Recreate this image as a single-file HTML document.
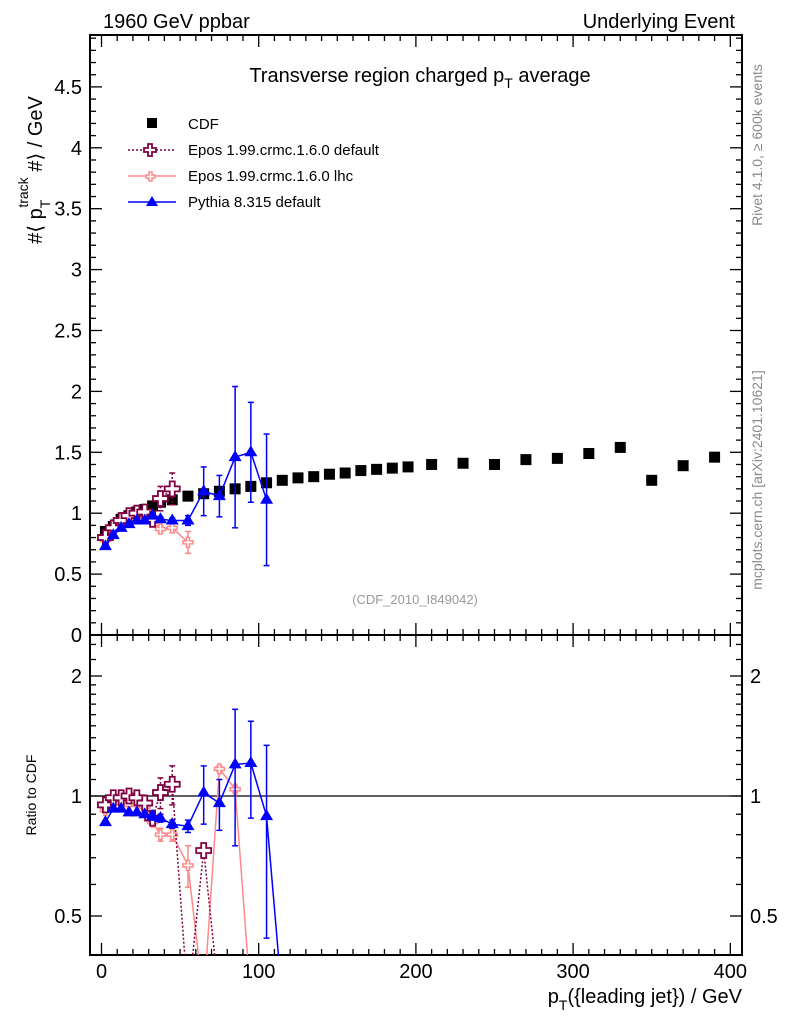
<!DOCTYPE html>
<html><head><meta charset="utf-8"><style>
html,body{margin:0;padding:0;background:#fff;width:786px;height:1024px;overflow:hidden}
svg{display:block;font-family:"Liberation Sans",sans-serif}
</style></head><body>
<svg id="c" width="786" height="1024" viewBox="0 0 786 1024">
<defs>
<clipPath id="cm"><rect x="90" y="35" width="652" height="600"/></clipPath>
<clipPath id="cr"><rect x="90" y="635" width="652" height="320"/></clipPath>
</defs>
<g id="axes"></g>
<g id="marks"></g>
<text x="103" y="28" font-size="20">1960 GeV ppbar</text>
<text x="735" y="28" font-size="20" text-anchor="end">Underlying Event</text>
<text x="420" y="82" font-size="20" text-anchor="middle">Transverse region charged p<tspan font-size="14" dy="6">T</tspan><tspan dy="-6"> average</tspan></text>
<text x="415" y="604" font-size="13" fill="#999" text-anchor="middle">(CDF_2010_I849042)</text>
<text transform="translate(42,170) rotate(-90)" font-size="20" text-anchor="middle">#⟨ p<tspan font-size="14" dy="8">T</tspan><tspan font-size="14" dy="-22" dx="-8">track</tspan><tspan dy="14"> #⟩ / GeV</tspan></text>
<text transform="translate(36,795) rotate(-90)" font-size="14" text-anchor="middle">Ratio to CDF</text>
<text x="742" y="1003" font-size="20" text-anchor="end">p<tspan font-size="14" dy="7">T</tspan><tspan dy="-7">({leading jet}) / GeV</tspan></text>
<text transform="translate(762,145) rotate(-90)" font-size="14" fill="#888" text-anchor="middle">Rivet 4.1.0, ≥ 600k events</text>
<text transform="translate(762,480) rotate(-90)" font-size="14" fill="#888" text-anchor="middle">mcplots.cern.ch [arXiv:2401.10621]</text>
<g>
<rect x="147" y="118" width="10" height="10" fill="#000"/>
<text x="188" y="129" font-size="15">CDF</text>
<line x1="128" y1="150" x2="176" y2="150" stroke="#800040" stroke-dasharray="2,2" stroke-width="1.5"/>
<path d="M148,144h4v4h4v4h-4v4h-4v-4h-4v-4h4z" fill="#fff" stroke="#800040" stroke-width="1.8"/>
<text x="188" y="155" font-size="15">Epos 1.99.crmc.1.6.0 default</text>
<line x1="128" y1="176" x2="176" y2="176" stroke="#f88" stroke-width="1.5"/>
<path d="M149,172h3v3h3v3h-3v3h-3v-3h-3v-3h3z" fill="#fff" stroke="#f88" stroke-width="1.5"/>
<text x="188" y="181" font-size="15">Epos 1.99.crmc.1.6.0 lhc</text>
<line x1="128" y1="202" x2="176" y2="202" stroke="#00f" stroke-width="1.5"/>
<path d="M152,196l6,10h-12z" fill="#00f"/>
<text x="188" y="207" font-size="15">Pythia 8.315 default</text>
</g>
</svg>
<script>
const xs = [2.5,7.5,12.5,17.5,22.5,27.5,32.5,37.5,45,55,65,75,85,95,105,115,125,135,145,155,165,175,185,195,210,230,250,270,290,310,330,350,370,390];
const cdfVals = [0.85,0.89,0.95,0.98,1.01,1.03,1.06,1.09,1.11,1.14,1.16,1.18,1.2,1.22,1.25,1.27,1.29,1.3,1.32,1.33,1.35,1.36,1.37,1.38,1.4,1.41,1.4,1.44,1.45,1.49,1.54,1.27,1.39,1.46];
const pyX = [2.5,7.5,12.5,17.5,22.5,27.5,32.5,37.5,45,55,65,75,85,95,105];
const pyVals = [0.73,0.82,0.88,0.91,0.94,0.94,0.98,0.95,0.94,0.94,1.18,1.14,1.46,1.5,1.11];
const pyErr = [0.01,0.01,0.01,0.01,0.01,0.01,0.02,0.02,0.02,0.04,0.2,0.17,0.58,0.41,0.54];
const edX = [2.5,7.5,12.5,17.5,22.5,27.5,32.5,37.5,45];
const edVals = [0.8,0.88,0.94,0.98,1.0,1.01,0.95,1.12,1.2];
const edErr = [0.01,0.01,0.01,0.01,0.02,0.02,0.03,0.1,0.13];
const elX = [2.5,7.5,12.5,17.5,22.5,27.5,32.5,37.5,45,55];
const elVals = [0.78,0.86,0.91,0.95,0.97,0.98,0.93,0.87,0.88,0.76];
const elErr = [0.01,0.01,0.01,0.01,0.01,0.02,0.02,0.03,0.04,0.09];
const rPyX = [2.5,7.5,12.5,17.5,22.5,27.5,32.5,37.5,45,55,65,75,85,95,105,115];
const rPy = [0.86,0.93,0.93,0.91,0.91,0.9,0.89,0.88,0.85,0.84,1.02,0.96,1.2,1.21,0.89,0];
const rPyErr = [0.01,0.01,0.01,0.01,0.01,0.01,0.02,0.02,0.02,0.03,0.17,0.14,0.45,0.33,0.45,0];
const rEdX = [2.5,7.5,12.5,17.5,22.5,27.5,32.5,37.5,45,55,65,75];
const rEd = [0.95,0.99,0.99,1.0,0.99,0.96,0.88,1.02,1.07,0,0.73,0];
const rEdErr = [0.01,0.01,0.01,0.01,0.02,0.02,0.03,0.09,0.12,0,0,0];
const rElX = [2.5,7.5,12.5,17.5,22.5,27.5,32.5,37.5,45,55,65,75,85,95];
const rEl = [0.92,0.96,0.96,0.95,0.95,0.94,0.86,0.8,0.8,0.67,0,1.17,1.04,0];
const rElErr = [0.01,0.01,0.01,0.01,0.01,0.02,0.02,0.03,0.03,0.08,0,0.02,0.02,0];
const xTicks = [0,100,200,300,400];
const yTicks = [0,0.5,1,1.5,2,2.5,3,3.5,4,4.5];
const rTicks = [0.5,1,2];

const NS='http://www.w3.org/2000/svg';
const X = v => 101.5 + v*1.572;
const YM = v => 635 - v*121.8;
const YR = r => r<=0 ? 1000 : 796 - 120*Math.log2(r);
const axes=document.getElementById('axes'), marks=document.getElementById('marks');
function mk(tag,attrs,parent){const e=document.createElementNS(NS,tag);for(const k in attrs)e.setAttribute(k,attrs[k]);parent.appendChild(e);return e;}
function ln(x1,y1,x2,y2,p,w){return mk('line',{x1,y1,x2,y2,stroke:'#000','stroke-width':w||1.3},p);}

let f1=mk('rect',{x:90,y:35,width:652,height:600,fill:'none',stroke:'#000','stroke-width':2},axes);


let f2=mk('rect',{x:90,y:635,width:652,height:320,fill:'none',stroke:'#000','stroke-width':2},axes);


for(let v=0;v<=410;v+=10){const x=X(v);if(x>741)break;const L=(v%100===0)?12:6;
 [[35,1],[635,-1],[635,1],[955,-1]].forEach(([y,d])=>ln(x,y,x,y+d*L,axes));}
xTicks.forEach(v=>{const t=mk('text',{x:X(v),y:978,'font-size':20,'text-anchor':'middle'},axes);t.textContent=v;
 
 });
for(let i=0;i<=49;i++){const v=i/10,y=YM(v);if(y<36)break;const L=(i%5===0)?12:6;ln(90,y,90+L,y,axes);ln(742,y,742-L,y,axes);}
yTicks.forEach(v=>{const t=mk('text',{x:82,y:YM(v)+7,'font-size':20,'text-anchor':'end'},axes);t.textContent=v;
 
 });
[0.4,0.5,0.6,0.7,0.8,0.9,1,1.1,1.2,1.3,1.4,1.5,1.6,1.7,1.8,1.9,2,2.2,2.4].forEach(r=>{const y=YR(r);if(y>954||y<636)return;const L=rTicks.includes(r)?12:6;ln(90,y,90+L,y,axes);ln(742,y,742-L,y,axes);});
rTicks.forEach(r=>{[82,750].forEach((x,i)=>{const t=mk('text',{x,y:YR(r)+7,'font-size':20,'text-anchor':i?'start':'end'},axes);t.textContent=r;
 
 });});
ln(90,YR(1),742,YR(1),axes,1.3);

const gm=mk('g',{'clip-path':'url(#cm)'},marks), gr=mk('g',{'clip-path':'url(#cr)'},marks);
function series(g,xa,va,ea,Y,color,dash,marker,name){
 const pts=xa.map((x,i)=>X(x)+','+Y(va[i])).join(' ');
 const pl=mk('polyline',{points:pts,fill:'none',stroke:color,'stroke-width':1.5},g);
 if(dash)pl.setAttribute('stroke-dasharray',dash);
 
 
 xa.forEach((x,i)=>{if(va[i]<=0)return;const cx=X(x),cy=Y(va[i]);
  if(ea&&ea[i]>0.015){const e=mk('line',{x1:cx,x2:cx,y1:Y(va[i]+ea[i]),y2:Y(Math.max(va[i]-ea[i],0.001)),stroke:color,'stroke-width':1.5},g);if(dash)e.setAttribute('stroke-dasharray',dash);
   mk('line',{x1:cx-3,x2:cx+3,y1:Y(va[i]+ea[i]),y2:Y(va[i]+ea[i]),stroke:color,'stroke-width':1.5},g);
   mk('line',{x1:cx-3,x2:cx+3,y1:Y(Math.max(va[i]-ea[i],0.001)),y2:Y(Math.max(va[i]-ea[i],0.001)),stroke:color,'stroke-width':1.5},g);}
  let m;
  if(marker==='sq')m=mk('rect',{x:cx-5.5,y:cy-5.5,width:11,height:11,fill:'#000'},g);
  else if(marker==='tri')m=mk('path',{d:`M${cx},${cy-7}l6.5,11h-13z`,fill:'#00f'},g);
  else if(marker==='crossL')m=mk('path',{d:`M${cx-2.5},${cy-7.5}h5v5h5v5h-5v5h-5v-5h-5v-5h5z`,fill:'#fff',stroke:'#800040','stroke-width':1.8},g);
  else m=mk('path',{d:`M${cx-1.5},${cy-5}h3v3.5h3.5v3h-3.5v3.5h-3v-3.5h-3.5v-3h3.5z`,fill:'#fff',stroke:'#f88','stroke-width':1.5},g);
  
  
 });
}
xs.forEach((x,i)=>{const m=mk('rect',{x:X(x)-5.5,y:YM(cdfVals[i])-5.5,width:11,height:11,fill:'#000'},gm);
 
 });
series(gm,elX,elVals,elErr,YM,'#f88',null,'crossS','epos-lhc');
series(gm,edX,edVals,edErr,YM,'#800040','2,2','crossL','epos-default');
series(gm,pyX,pyVals,pyErr,YM,'#00f',null,'tri','pythia');
series(gr,rElX,rEl,rElErr,YR,'#f88',null,'crossS','ratio-epos-lhc');
series(gr,rEdX,rEd,rEdErr,YR,'#800040','2,2','crossL','ratio-epos-default');
series(gr,rPyX,rPy,rPyErr,YR,'#00f',null,'tri','ratio-pythia');
</script>
</body></html>
